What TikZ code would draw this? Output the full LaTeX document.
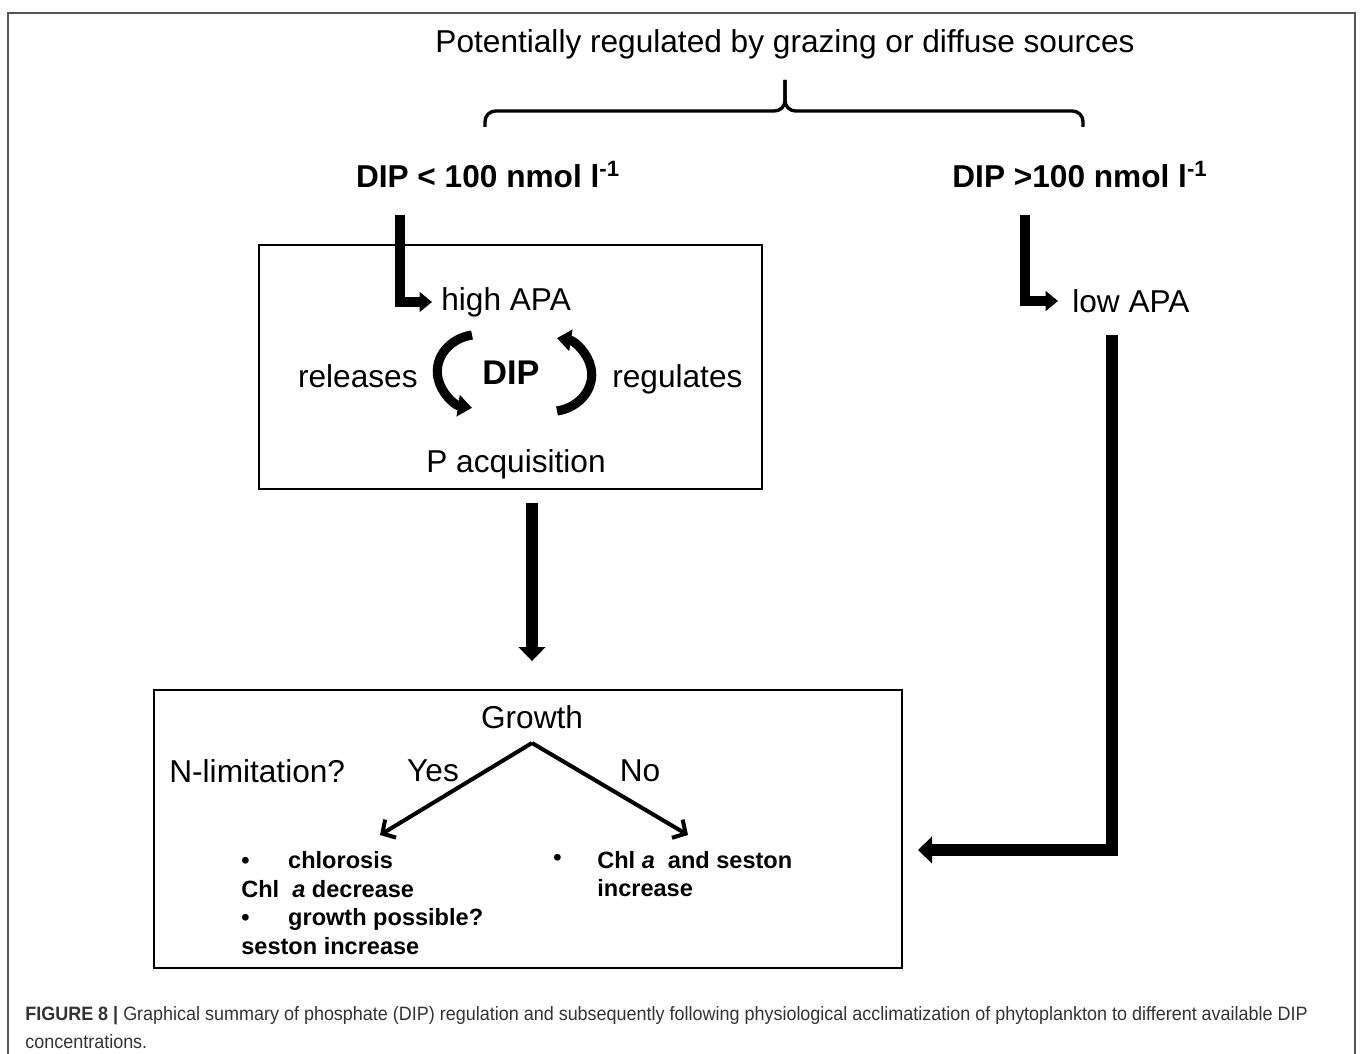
\documentclass[tikz,border=0pt]{standalone}
\usepackage{fontspec}
\setmainfont{Liberation Sans}
\newfontfamily\capfont[FakeStretch=0.93]{Liberation Sans}
\usetikzlibrary{arrows.meta,positioning}
\definecolor{framegray}{HTML}{555555}
\definecolor{capgray}{HTML}{333333}
\tikzset{
  txt/.style={font=\fontsize{18}{21}\selectfont, inner sep=0pt},
  btxt/.style={font=\fontsize{18}{21}\selectfont\bfseries, inner sep=0pt},
  note/.style={font=\fontsize{13.4}{16.3}\selectfont\bfseries, inner sep=0pt, anchor=west, align=left},
  box/.style={draw, line width=1.1pt},
  thin arrow/.style={line width=5.8pt, miter limit=10, -{Triangle[length=7pt,width=11pt]}},
  fat arrow/.style={line width=7.2pt, miter limit=10, -{Triangle[length=8pt,width=15pt]}},
  cyc/.style={line width=5.2pt, -{Triangle[length=8pt,width=12pt]}},
  branch/.style={line width=2.3pt, -{Straight Barb[length=5.5pt,width=12pt]}},
}
\begin{document}
\begin{tikzpicture}[x=0.02cm,y=-0.02cm]
\useasboundingbox (0,0) rectangle (1360,1054);
% frame
\draw[framegray, line width=1.1pt] (8,1054) -- (8,13) -- (1355,13) -- (1355,1054);
% heading and brace
\node[txt] (top) at (785,44) {Potentially regulated by grazing or diffuse sources};
\draw[line width=1.9pt, rounded corners=6] (485,127) -- (485,111) -- (785,111) -- (785,80);
\draw[line width=1.9pt, rounded corners=6] (1083,127) -- (1083,111) -- (785,111) -- (785,80);
\node[btxt] (lowdip) at (488,175) {DIP < 100 nmol l\textsuperscript{-1}};
\node[btxt] (highdip) at (1080,175) {DIP >100 nmol l\textsuperscript{-1}};
% upper box
\node[box, minimum width=10.06cm, minimum height=4.88cm] (box1) at (510.5,367) {};
\node[txt, anchor=west, inner xsep=0.18cm] (hapa) at (432,302) {high APA};
\node[txt, anchor=east] (rel) at (418,376) {releases};
\node[btxt, font=\fontsize{19.5}{22}\selectfont\bfseries] (dip) at (511,373) {DIP};
\node[txt, anchor=west] (reg) at (612,379) {regulates};
\node[txt] (pacq) at (516,464) {P acquisition};
\coordinate (c1) at (472,335);
\coordinate (c2) at (557,411);
\draw[cyc] (c1) arc[start angle=260, end angle=100, x radius=42, y radius=37];
\draw[cyc] (c2) arc[start angle=80, end angle=-80, x radius=42, y radius=37];
% right branch
\node[txt, anchor=west, inner xsep=0.28cm] (lapa) at (1058,301) {low APA};
% lower box
\node[box, minimum width=14.96cm, minimum height=5.56cm] (box2) at (528,829) {};
\node[txt] (growth) at (532,717) {Growth};
\node[txt, anchor=west] (nlim) at (169,771) {N-limitation?};
\node[txt] (yes) at (433,771) {Yes};
\node[txt] (no) at (640,771) {No};
\node[note] (left) at (241,903) {\textbullet\hspace{22pt}chlorosis\\Chl\ \ \textit{a} decrease\\\textbullet\hspace{22pt}growth possible?\\seston increase};
\node[note] (dot) at (553,860) {\textbullet};
\node[note] (right) at (597,874) {Chl \textit{a}\ \ and seston\\increase};
\coordinate (fork) at (532,743);
\coordinate (yesend) at (380,835);
\coordinate (noend) at (688,835);
\coordinate (s1) at (400,215);
\coordinate (s2) at (1025,215);
\coordinate (s4) at (1112,335);
\coordinate (e4) at (918,850);
% caption
\node[anchor=north west, inner sep=0pt, align=left, text=capgray, font=\capfont\fontsize{11}{16}\selectfont] (cap) at (25,1006)
  {\textbf{FIGURE 8 |} Graphical summary of phosphate (DIP) regulation and subsequently following physiological acclimatization of phytoplankton to different available DIP\\concentrations.};
\path
  (s1) edge[thin arrow, to path={|- (\tikztotarget)}] (hapa.west)
  (s2) edge[thin arrow, to path={|- (\tikztotarget)}] (lapa.west)
  (box1.south -| growth) edge[fat arrow, shorten <=0.26cm, shorten >=0.56cm] (box2.north -| growth)
  (s4) edge[fat arrow, to path={|- (\tikztotarget)}] (e4)
  (fork) edge[branch] (yesend)
  (fork) edge[branch] (noend)
;
\end{tikzpicture}
\end{document}
